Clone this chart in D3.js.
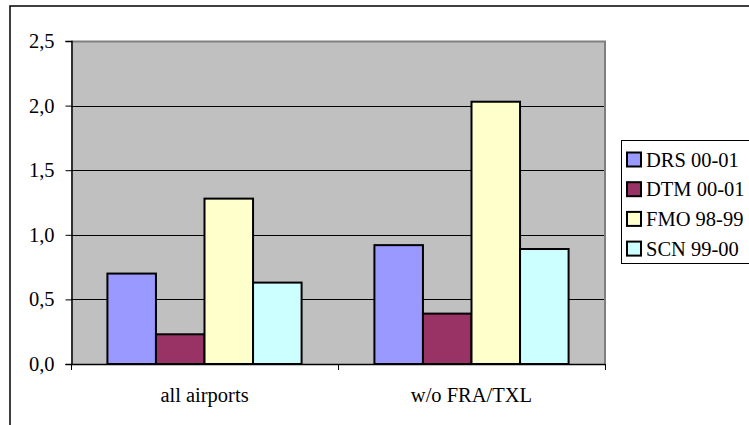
<!DOCTYPE html>
<html>
<head>
<meta charset="utf-8">
<script src="https://cdn.jsdelivr.net/npm/d3@7/dist/d3.min.js"></script>
<style>
  html, body { margin: 0; padding: 0; background: #ffffff; overflow: hidden; }
  svg { display: block; }
  svg text { font-family: "Liberation Serif", "Tinos", "DejaVu Serif", "Times New Roman", serif !important; font-size: 20.5px; fill: #000; }
</style>
</head>
<body>
<svg id="chart" width="749" height="425" font-family="Liberation Serif, DejaVu Serif, serif"></svg>
<script>
// Categories and series
const categories = ["all airports", "w/o FRA/TXL"];
const seriesNames = ["DRS 00-01", "DTM 00-01", "FMO 98-99", "SCN 99-00"];
const seriesColors = ["#9999ff", "#993366", "#ffffcc", "#ccffff"];
// values per series, one entry per category
const drsValues = [0.70, 0.92];
const dtmValues = [0.23, 0.39];
const fmoValues = [1.28, 2.03];
const scnValues = [0.63, 0.89];
const yTicks = [0, 0.5, 1.0, 1.5, 2.0, 2.5];

const seriesValues = [drsValues, dtmValues, fmoValues, scnValues];
const FONT = "'Liberation Serif', 'DejaVu Serif', serif";
const FSIZE = 20.5;

const svg = d3.select("#chart");

// outer chart frame (runs off the right and bottom edge)
svg.append("rect")
  .attr("x", 10).attr("y", 6)
  .attr("width", 760).attr("height", 440)
  .attr("fill", "#fff").attr("stroke", "#000").attr("stroke-width", 1.5);

const plot = { left: 71, top: 41, right: 605, bottom: 364 };

const x0 = d3.scaleBand().domain(categories).range([plot.left, plot.right]).padding(0);
const x1 = d3.scaleBand().domain(seriesNames).range([0, x0.bandwidth()])
  .paddingInner(0).paddingOuter(0.75);
const y = d3.scaleLinear().domain([0, 2.5]).range([plot.bottom, plot.top]);

// plot background
svg.append("rect")
  .attr("x", plot.left).attr("y", plot.top)
  .attr("width", plot.right - plot.left).attr("height", plot.bottom - plot.top)
  .attr("fill", "#c0c0c0");

// horizontal gridlines
svg.append("g").selectAll("line")
  .data(yTicks.filter(t => t > 0 && t < 2.5))
  .join("line")
  .attr("x1", plot.left).attr("x2", plot.right)
  .attr("y1", d => Math.round(y(d)) + 0.5).attr("y2", d => Math.round(y(d)) + 0.5)
  .attr("stroke", "#000").attr("stroke-width", 1);

// plot border (top and right)
svg.append("path")
  .attr("d", `M${plot.left},${plot.top + 0.5}H${plot.right}V${plot.bottom}`)
  .attr("fill", "none").attr("stroke", "#808080").attr("stroke-width", 2);

// bars
const rows = [];
categories.forEach((c, ci) => {
  seriesNames.forEach((s, si) => {
    rows.push({ cat: c, series: s, value: seriesValues[si][ci], color: seriesColors[si] });
  });
});

svg.append("g").selectAll("rect")
  .data(rows)
  .join("rect")
  .attr("x", d => x0(d.cat) + x1(d.series))
  .attr("y", d => y(d.value))
  .attr("width", x1.bandwidth())
  .attr("height", d => y(0) - y(d.value))
  .attr("fill", d => d.color)
  .attr("stroke", "#000").attr("stroke-width", 2);

// y axis
const yAxis = d3.axisLeft(y)
  .tickValues(yTicks)
  .tickSize(6)
  .tickPadding(11)
  .tickFormat(d => d3.format(".1f")(d).replace(".", ","));
const gy = svg.append("g").attr("transform", `translate(${plot.left + 0.5},0)`).call(yAxis);
gy.attr("font-family", FONT).attr("font-size", FSIZE);
gy.select(".domain").attr("stroke", "#000").attr("stroke-width", 1.5);
gy.selectAll(".tick line").attr("stroke", "#000");
gy.selectAll(".tick text").attr("fill", "#000");

// x axis: ticks on category boundaries
const xAxisLine = svg.append("g").attr("font-family", FONT).attr("font-size", FSIZE);
xAxisLine.append("line")
  .attr("x1", plot.left).attr("x2", plot.right)
  .attr("y1", plot.bottom + 0.5).attr("y2", plot.bottom + 0.5)
  .attr("stroke", "#000").attr("stroke-width", 1.5);
const boundaries = categories.map(c => x0(c)).concat([x0(categories[categories.length - 1]) + x0.bandwidth()]);
xAxisLine.selectAll("line.tk")
  .data(boundaries)
  .join("line").attr("class", "tk")
  .attr("x1", d => Math.round(d) + 0.5).attr("x2", d => Math.round(d) + 0.5)
  .attr("y1", plot.bottom).attr("y2", plot.bottom + 6)
  .attr("stroke", "#000");
xAxisLine.selectAll("text")
  .data(categories)
  .join("text")
  .attr("x", d => x0(d) + x0.bandwidth() / 2)
  .attr("y", 402)
  .attr("text-anchor", "middle")
  .text(d => d);

// legend
const legend = svg.append("g").attr("font-family", FONT).attr("font-size", FSIZE);
legend.append("rect")
  .attr("x", 621.5).attr("y", 140.5)
  .attr("width", 140).attr("height", 123)
  .attr("fill", "#fff").attr("stroke", "#000").attr("stroke-width", 1);
const items = legend.selectAll("g.item")
  .data(seriesNames)
  .join("g").attr("class", "item")
  .attr("transform", (d, i) => `translate(627,${159.5 + i * 29.7})`);
items.append("rect")
  .attr("x", 0).attr("y", -7)
  .attr("width", 14).attr("height", 14)
  .attr("fill", (d, i) => seriesColors[i])
  .attr("stroke", "#000").attr("stroke-width", 2);
items.append("text")
  .attr("x", 19).attr("y", 0)
  .attr("dy", "0.35em")
  .text(d => d);
</script>
</body>
</html>
